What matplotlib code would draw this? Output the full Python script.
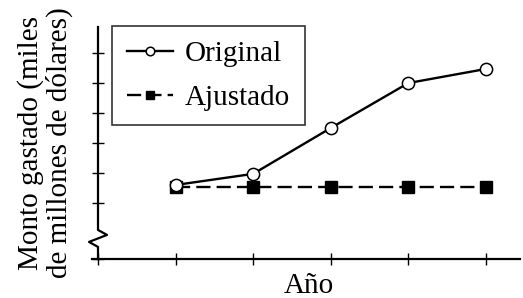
import numpy as np
import matplotlib.pyplot as plt

plt.rcParams['font.family'] = ['Liberation Serif', 'DejaVu Serif']

# years (unlabelled) and values, arbitrary units
years = [1, 2, 3, 4, 5]
original = [2.6, 2.97, 4.5, 6.0, 6.47]
ajustado = [2.53, 2.53, 2.53, 2.53, 2.53]

y0, y1 = 0.13, 7.87
x0, x1 = 0.0, 5.44

fig = plt.figure(figsize=(5.23, 2.98), dpi=100)
ax = fig.add_axes([98 / 523, 39 / 298, 422 / 523, 232 / 298])

ax.plot(years, original, '-o', color='black', lw=1.7, ms=8.8,
        mfc='white', mec='black', mew=1.1, label='Original', zorder=3)
ax.plot(years, ajustado, '--s', color='black', lw=1.7, ms=8.3,
        dashes=(6.0, 2.6), label='Ajustado', zorder=2)

ax.set_xlim(x0, x1)
ax.set_ylim(y0, y1)
ax.set_xticks([0, 1, 2, 3, 4, 5])
ax.set_yticks([y0, 2, 3, 4, 5, 6, 7])
ax.set_xticklabels([])
ax.set_yticklabels([])
ax.tick_params(direction='inout', length=9, width=1.0)

for s in ['top', 'right', 'left']:
    ax.spines[s].set_visible(False)
ax.spines['bottom'].set_linewidth(1.6)
ax.spines['bottom'].set_bounds(-0.08, x1)

# left axis with break mark
px = 1 / 77.6
py = 1 / 30
bx = [0, 0, 9 * px, -9 * px, 0, 0]
by = [y1, (263 - 230) * py, (263 - 235) * py, (263 - 242) * py, (263 - 247) * py, y0]
ax.plot(bx, by, color='black', lw=1.6, clip_on=False, zorder=4)

ax.set_xlabel('Año', fontsize=21, labelpad=2)
ax.set_ylabel('Monto gastado (miles\nde millones de dólares)', fontsize=21,
              labelpad=10, linespacing=1.1)

leg = ax.legend(loc='upper left', fontsize=21, frameon=True, fancybox=False,
                edgecolor='black', handlelength=1.6, handletextpad=0.4,
                borderpad=0.5, labelspacing=0.6, markerscale=0.7,
                borderaxespad=0, bbox_to_anchor=(0.033, 1.005))
leg.get_frame().set_linewidth(1.2)

fig.savefig('out.png', dpi=100)
